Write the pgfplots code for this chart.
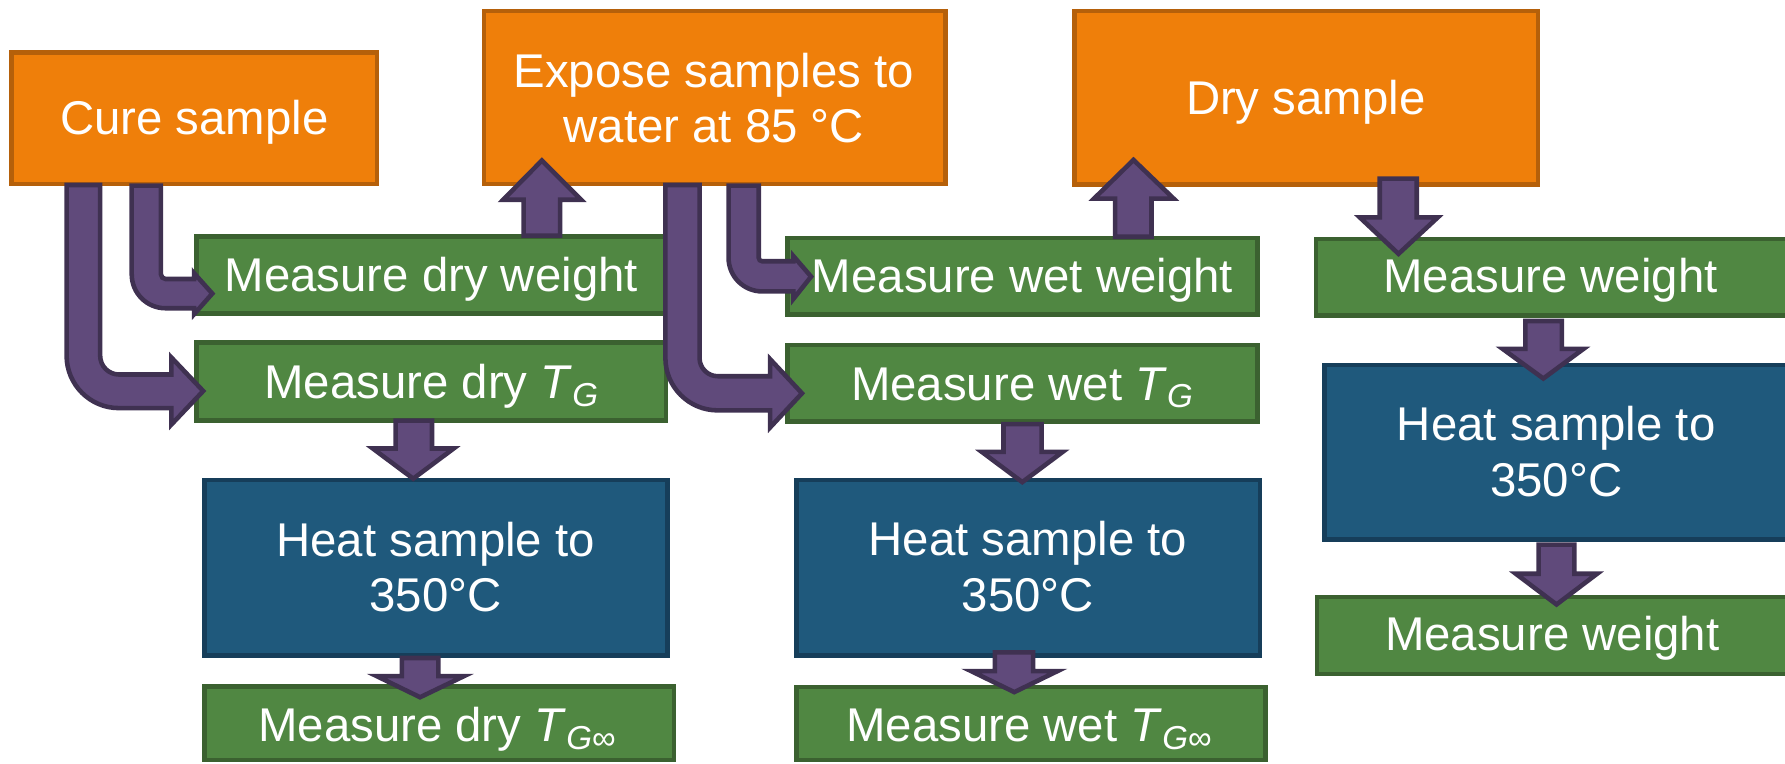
\documentclass[border=0pt]{standalone}
\usepackage{fontspec}
\setmainfont{Liberation Sans}
\usepackage{pgfplots}
\pgfplotsset{compat=1.18}

\definecolor{boxO}{RGB}{239,127,10}
\definecolor{boxOd}{RGB}{181,96,10}
\definecolor{boxG}{RGB}{80,135,66}
\definecolor{boxGd}{RGB}{59,97,48}
\definecolor{boxB}{RGB}{31,89,124}
\definecolor{boxBd}{RGB}{22,62,90}
\definecolor{arrP}{RGB}{96,74,123}
\definecolor{arrPd}{RGB}{63,49,81}

% box: fill, border, x1, x2, y1, y2 (y grows downwards)
\newcommand{\flowbox}[6]{%
  \addplot[fill=#1, draw=#2, line width=1pt] coordinates {(#3,#5) (#4,#5) (#4,#6) (#3,#6)} -- cycle;}
% straight block arrow: shaft x1, x2, shaft start y, head base y, head x1, head x2, tip x, tip y
\newcommand{\blockarrow}[8]{%
  \addplot[fill=arrP, draw=arrPd, line width=1pt] coordinates {(#1,#3) (#1,#4) (#5,#4) (#7,#8) (#6,#4) (#2,#4) (#2,#3)} -- cycle;}

\tikzset{lbl/.style={anchor=base, inner sep=0pt, text=white, font=\fontsize{10.4}{12.2}\selectfont}}

\begin{document}
\begin{tikzpicture}
\begin{axis}[width=392pt, height=167.75pt, scale only axis, hide axis,
  xmin=0, xmax=1568, ymin=0, ymax=671, y dir=reverse, clip=true]

% orange steps
\flowbox{boxO}{boxOd}{10}{331}{46}{161.5}
\flowbox{boxO}{boxOd}{425}{830.5}{9.5}{161.5}
\flowbox{boxO}{boxOd}{944}{1351}{9.5}{162}
% green measurements
\flowbox{boxG}{boxGd}{172.5}{585}{208}{275.5}
\flowbox{boxG}{boxGd}{172.5}{585}{301}{369.5}
\flowbox{boxG}{boxGd}{692}{1104.5}{209}{276.5}
\flowbox{boxG}{boxGd}{692}{1104.5}{303}{370.5}
\flowbox{boxG}{boxGd}{1156}{1580}{210}{277}
\flowbox{boxG}{boxGd}{1157}{1580}{524.5}{592}
\flowbox{boxG}{boxGd}{179.5}{592}{603}{667.5}
\flowbox{boxG}{boxGd}{699.5}{1111.5}{603.5}{667.5}
% blue heating
\flowbox{boxB}{boxBd}{179.5}{586.5}{421.5}{576}
\flowbox{boxB}{boxBd}{699.5}{1107}{421.5}{576}
\flowbox{boxB}{boxBd}{1163.5}{1580}{320.5}{474}

% straight arrows
\blockarrow{460}{492}{207}{175.5}{442}{510.5}{476}{141}
\blockarrow{979.5}{1011.5}{208}{174.5}{961}{1031}{995.7}{140.5}
\blockarrow{1212}{1244.5}{157}{191}{1194.5}{1263}{1228.5}{223}
\blockarrow{1340}{1372}{282}{306.5}{1320}{1391}{1355.7}{332.5}
\blockarrow{1351.5}{1383}{478.5}{504}{1331.5}{1403}{1367.3}{531}
\blockarrow{347.5}{379.5}{369.5}{394}{327.5}{398.5}{363}{420.5}
\blockarrow{353}{385}{578}{594}{331}{407.5}{369}{612.5}
\blockarrow{881.5}{915}{372.5}{397}{862.5}{933.5}{898}{423.5}
\blockarrow{874}{907.5}{573}{589.5}{853}{929}{891}{608}

% bent arrows
\draw[fill=arrP, draw=arrPd, line width=1pt] (58.5,162.5) -- (58.5,312.5)
  .. controls (58.5,337.9) and (79.1,358.5) .. (104.5,358.5) -- (150.5,358.5)
  -- (150.5,373) -- (178.5,343.5) -- (150.5,314) -- (150.5,329) -- (104.5,329)
  .. controls (95.4,329) and (88,321.6) .. (88,312.5) -- (88,162.5) -- cycle;
\draw[fill=arrP, draw=arrPd, line width=1pt] (115.7,163) -- (115.7,241)
  .. controls (115.7,257.5) and (129,270.8) .. (145.5,270.8) -- (170.5,270.8)
  -- (170.5,276) -- (186.5,257.9) -- (170.5,240) -- (170.5,245.1) -- (145.5,245.1)
  .. controls (143.2,245.1) and (141.4,243.3) .. (141.4,241) -- (141.4,163) -- cycle;
\draw[fill=arrP, draw=arrPd, line width=1pt] (584.5,162.5) -- (584.5,314.5)
  .. controls (584.5,339.9) and (605.1,360.5) .. (630.5,360.5) -- (676.5,360.5)
  -- (676.5,375.5) -- (704.5,345.5) -- (676.5,315.5) -- (676.5,330.5) -- (630.5,330.5)
  .. controls (621.7,330.5) and (614.5,323.3) .. (614.5,314.5) -- (614.5,162.5) -- cycle;
\draw[fill=arrP, draw=arrPd, line width=1pt] (640,163) -- (640,226.5)
  .. controls (640,242.8) and (653.2,256) .. (669.5,256) -- (697,256)
  -- (697,262.5) -- (712.5,243) -- (697,225) -- (697,229.5) -- (669.5,229.5)
  .. controls (667.8,229.5) and (666.5,228.2) .. (666.5,226.5) -- (666.5,163) -- cycle;

% labels
\node[lbl] at (170.8,118.5) {Cure sample};
\node[lbl] at (627,76.7) {Expose samples to};
\node[lbl] at (627,125.3) {water at 85 °C};
\node[lbl] at (1147,100.5) {Dry sample};
\node[lbl] at (378.9,256.2) {Measure dry weight};
\node[lbl] at (379.9,350.5) {Measure dry \textit{T}\textsubscript{\textit{G}}};
\node[lbl] at (898.2,257.2) {Measure wet weight};
\node[lbl] at (898.8,351.6) {Measure wet \textit{T}\textsubscript{\textit{G}}};
\node[lbl] at (1362,256.7) {Measure weight};
\node[lbl] at (1367,387) {Heat sample to};
\node[lbl] at (1367,436.4) {350°C};
\node[lbl] at (1363.6,571) {Measure weight};
\node[lbl] at (382.7,489) {Heat sample to};
\node[lbl] at (382.7,537.5) {350°C};
\node[lbl] at (902.9,488.4) {Heat sample to};
\node[lbl] at (902.9,537.3) {350°C};
\node[lbl] at (384.9,651.5) {Measure dry \textit{T}\textsubscript{\textit{G}∞}};
\node[lbl] at (904.9,651.5) {Measure wet \textit{T}\textsubscript{\textit{G}∞}};
\end{axis}
\pgfresetboundingbox
\useasboundingbox (current axis.south west) rectangle (current axis.north east);
\end{tikzpicture}
\end{document}
